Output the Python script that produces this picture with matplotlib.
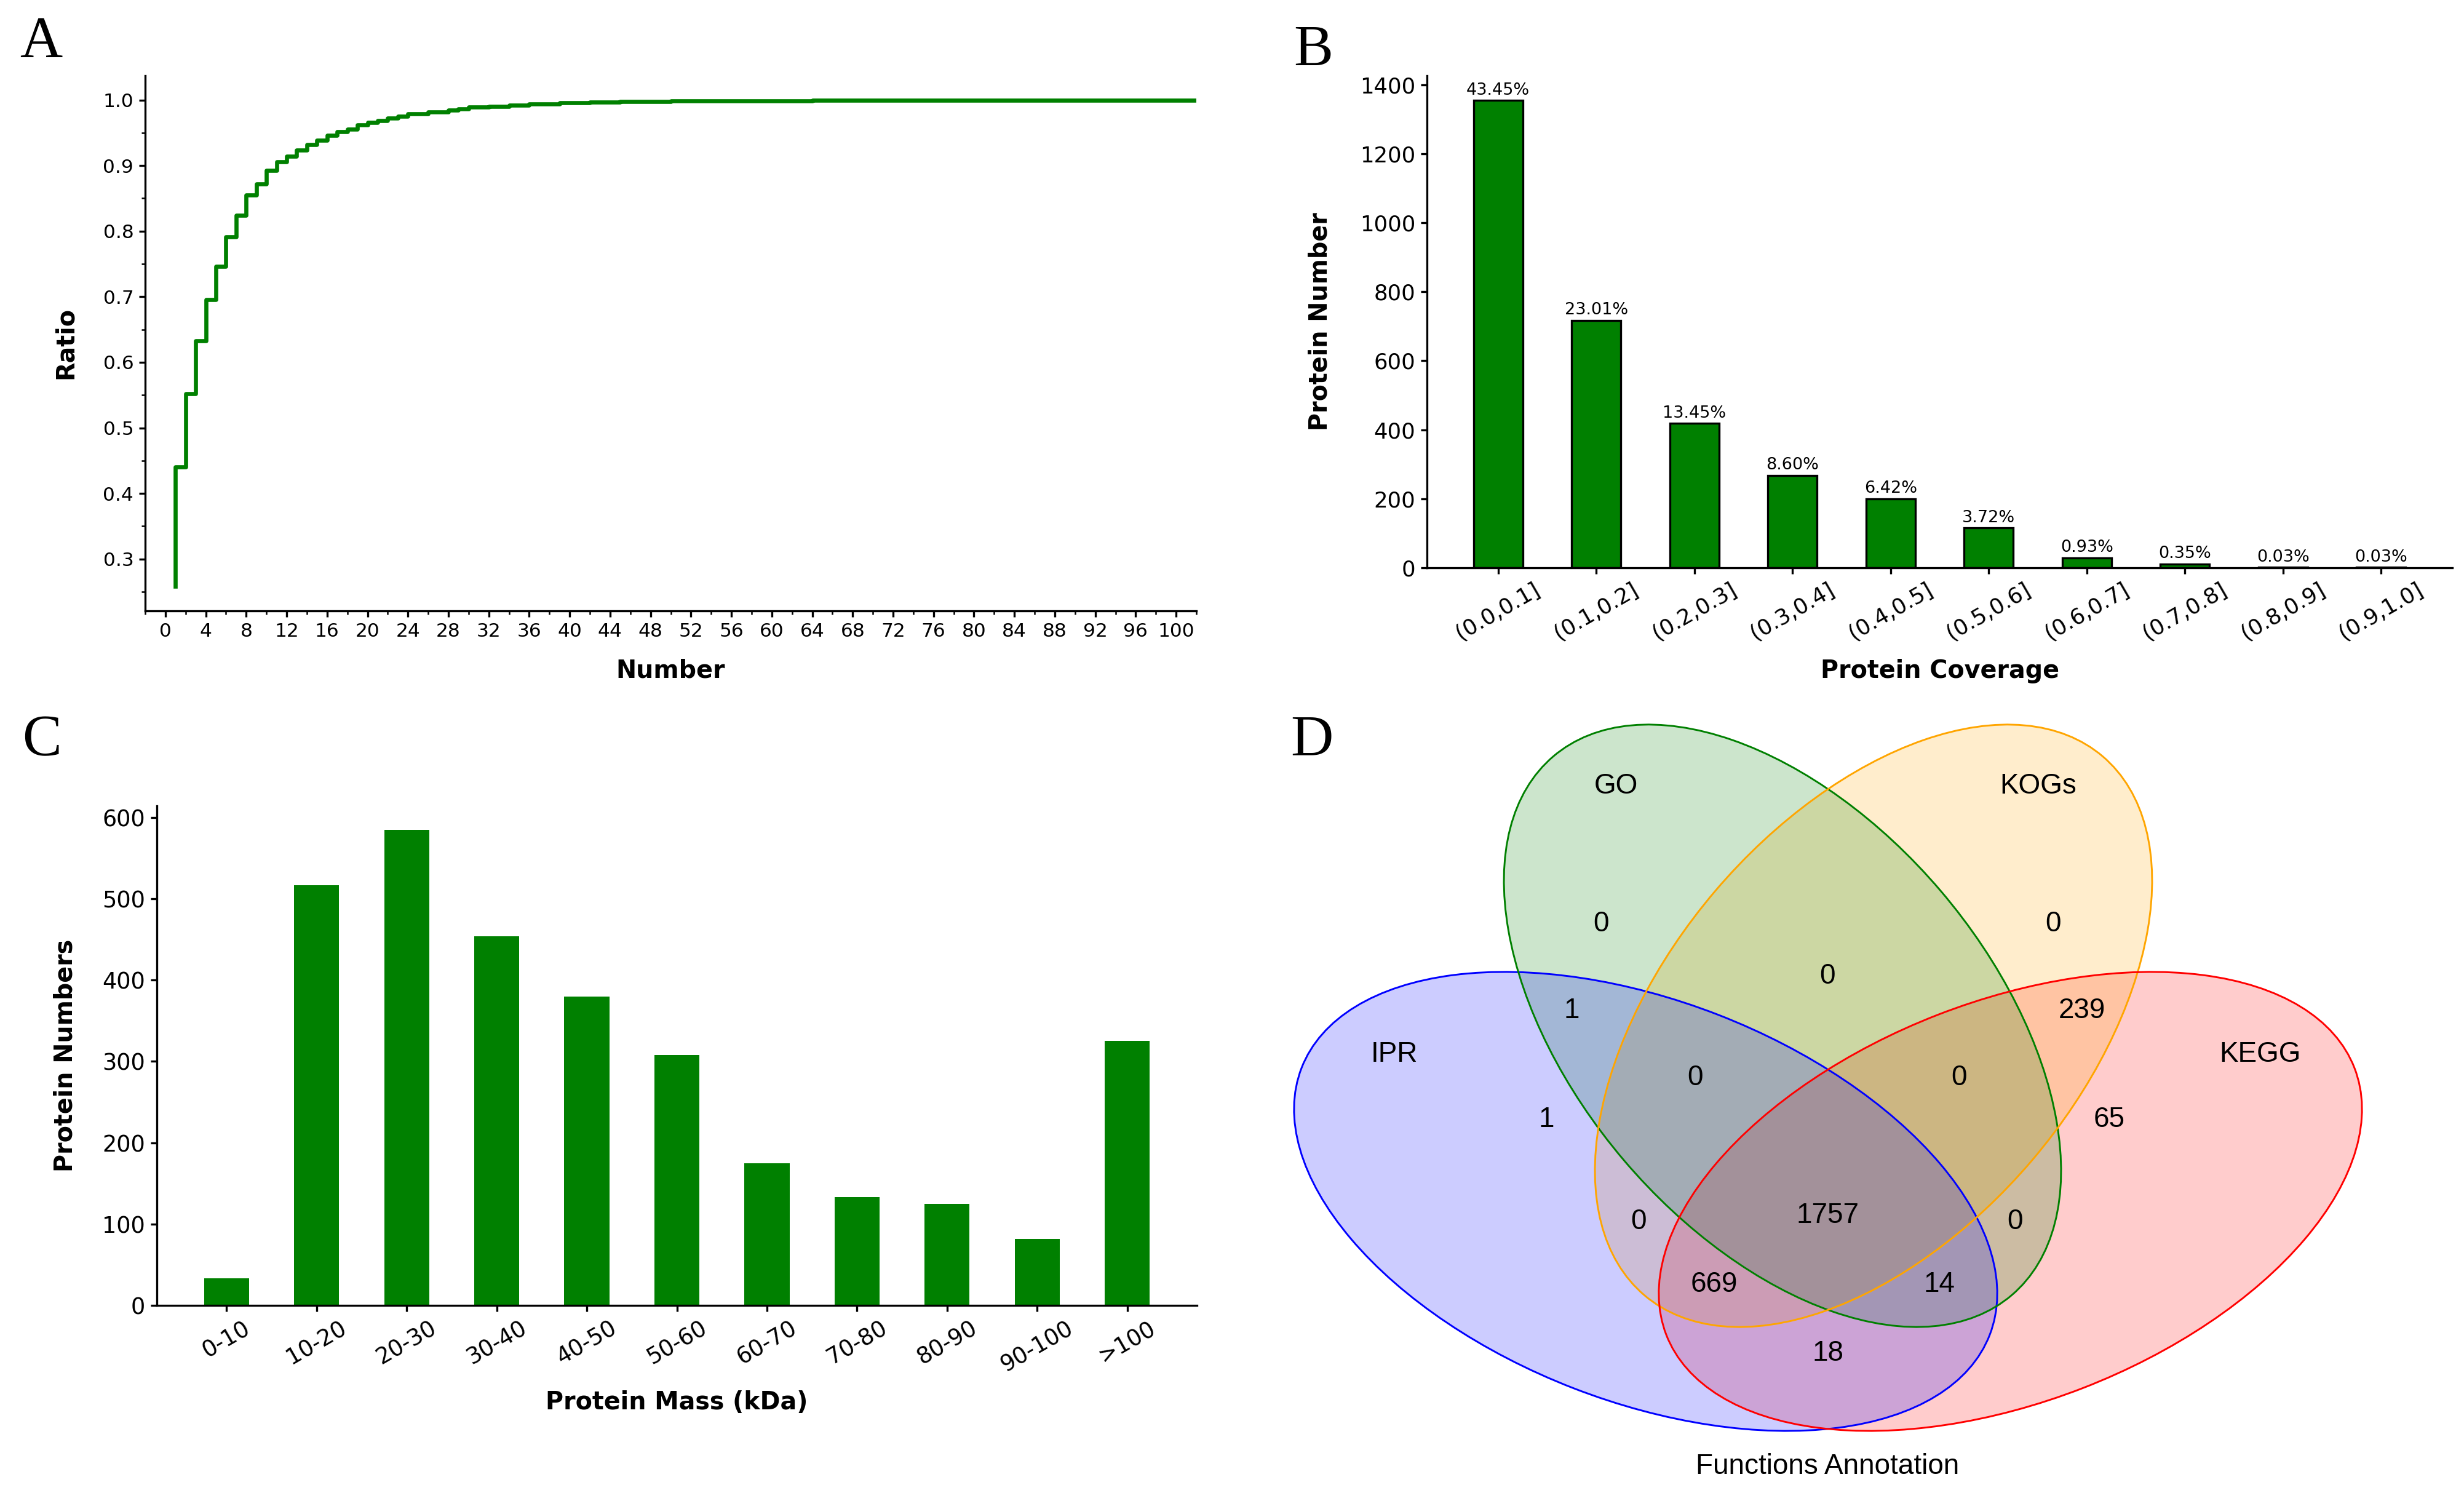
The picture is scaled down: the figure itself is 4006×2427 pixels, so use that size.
import matplotlib
matplotlib.use('Agg')
import matplotlib.pyplot as plt
from matplotlib.patches import Ellipse
from matplotlib.ticker import MultipleLocator
from matplotlib.colors import to_rgba

# ---- data ----
# A: cumulative ratio of proteins vs peptide number
number = list(range(1, 104))
ratio = [0.258, 0.4405, 0.5524, 0.6324, 0.6957, 0.7459, 0.7914, 0.8243, 0.8551, 0.8719,
         0.8924, 0.9054, 0.9146, 0.9238, 0.9319, 0.9389, 0.9465, 0.9514, 0.9557, 0.9616,
         0.9654, 0.9687, 0.9725, 0.975, 0.979, 0.979, 0.9818, 0.9818, 0.985, 0.9869,
         0.9893, 0.9893, 0.9906, 0.9906, 0.9921, 0.9921, 0.994, 0.994, 0.994, 0.9956,
         0.9956, 0.9956, 0.9968, 0.9968, 0.9968, 0.9978, 0.9978, 0.998, 0.998, 0.998,
         0.9984, 0.9984, 0.9984, 0.9987, 0.9987, 0.9987, 0.9987, 0.9987, 0.9987, 0.9987,
         0.999, 0.999, 0.999, 0.999, 0.9994, 0.9994, 0.9994, 0.9994, 0.9994, 0.9997,
         0.9997, 0.9997, 0.9997, 0.9997, 0.9997, 0.9997, 0.9997, 0.9997, 0.9997, 0.9997,
         0.9997, 0.9997, 0.9997, 0.9997, 0.9997, 0.9997, 0.9997, 0.9997, 0.9997, 1.0,
         1.0, 1.0, 1.0, 1.0, 1.0, 1.0, 1.0, 1.0, 1.0, 1.0,
         1.0, 1.0, 1.0]

# B: protein coverage
coverage_bins = ['(0.0,0.1]', '(0.1,0.2]', '(0.2,0.3]', '(0.3,0.4]', '(0.4,0.5]',
                 '(0.5,0.6]', '(0.6,0.7]', '(0.7,0.8]', '(0.8,0.9]', '(0.9,1.0]']
coverage_counts = [1354, 717, 419, 268, 200, 116, 29, 11, 1, 1]

# C: protein mass
mass_bins = ['0-10', '10-20', '20-30', '30-40', '40-50', '50-60',
             '60-70', '70-80', '80-90', '90-100', '>100']
mass_counts = [33, 517, 585, 454, 380, 308, 175, 133, 125, 82, 325]

# D: functional annotation venn (sets: IPR, GO, KOGs, KEGG)
set_names = ['IPR', 'GO', 'KOGs', 'KEGG']
set_colors = ['blue', 'green', 'orange', 'red']
region_keys = ['1000', '0100', '0010', '0001', '1100', '1010', '1001', '0110',
               '0101', '0011', '1110', '1101', '1011', '0111', '1111']
region_counts = [1, 0, 0, 65, 1, 0, 18, 0, 0, 239, 0, 14, 669, 0, 1757]

W, H = 4006, 2427
fig = plt.figure(figsize=(W / 300, H / 300), dpi=300)


def box(left, top, right, bottom):
    return [left / W, 1 - bottom / H, (right - left) / W, (bottom - top) / H]


def style(ax, tsize):
    for s in ['top', 'right']:
        ax.spines[s].set_visible(False)
    for s in ['left', 'bottom']:
        ax.spines[s].set_linewidth(0.8)
    ax.tick_params(which='major', length=2.5, width=0.8, labelsize=tsize, pad=2)
    ax.tick_params(which='minor', length=1.5, width=0.6)


# panel letters
for letter, x, y in [('A', 32, 93), ('B', 2103, 107), ('C', 36, 1228), ('D', 2098, 1228)]:
    fig.text(x / W, 1 - y / H, letter, family='Liberation Serif', fontsize=23,
             ha='left', va='baseline')

# ---- A ----
axA = fig.add_axes(box(236, 123, 1945, 993))
axA.plot(number, ratio, drawstyle='steps-pre', color='green', lw=1.6)
axA.set_xlim(-2, 102)
axA.xaxis.set_major_locator(MultipleLocator(4))
axA.xaxis.set_minor_locator(MultipleLocator(2))
axA.yaxis.set_major_locator(MultipleLocator(0.1))
axA.yaxis.set_minor_locator(MultipleLocator(0.05))
style(axA, 7.5)
axA.set_xlabel('Number', fontsize=9.5, fontweight='bold')
axA.set_ylabel('Ratio', fontsize=9.5, fontweight='bold')
axA.xaxis.set_label_coords(0.5, -0.1115)
axA.xaxis.label.set_va('center')
axA.yaxis.set_label_coords(-0.0755, 0.5)
axA.yaxis.label.set_va('center')

# ---- B ----
axB = fig.add_axes(box(2320, 123, 3987, 923))
xb = range(len(coverage_bins))
axB.bar(xb, coverage_counts, width=0.5, color='green', edgecolor='black', linewidth=0.8)
total = sum(coverage_counts)
for i, c in zip(xb, coverage_counts):
    axB.text(i, c + 6, f'{c / total * 100:.2f}%', ha='center', va='bottom', fontsize=6.5)
axB.set_xticks(list(xb))
axB.set_xticklabels(coverage_bins, rotation=30)
axB.set_ylim(0, 1426)
axB.yaxis.set_major_locator(MultipleLocator(200))
style(axB, 8.5)
axB.set_xlabel('Protein Coverage', fontsize=9.5, fontweight='bold')
axB.set_ylabel('Protein Number', fontsize=9.5, fontweight='bold')
axB.xaxis.set_label_coords(0.5, -0.21)
axB.xaxis.label.set_va('center')
axB.yaxis.set_label_coords(-0.1038, 0.5)
axB.yaxis.label.set_va('center')

# ---- C ----
axC = fig.add_axes(box(255, 1310, 1946, 2122))
xc = range(len(mass_bins))
axC.bar(xc, mass_counts, width=0.5, color='green')
axC.set_xticks(list(xc))
axC.set_xticklabels(mass_bins, rotation=30)
axC.yaxis.set_major_locator(MultipleLocator(100))
style(axC, 8.8)
axC.set_xlabel('Protein Mass (kDa)', fontsize=9.5, fontweight='bold')
axC.set_ylabel('Protein Numbers', fontsize=9.5, fontweight='bold')
axC.xaxis.set_label_coords(0.5, -0.1946)
axC.xaxis.label.set_va('center')
axC.yaxis.set_label_coords(-0.0881, 0.5)
axC.yaxis.label.set_va('center')

# ---- D ----
axD = fig.add_axes(box(2050, 1130, 4006, 2427))
axD.set_xlim(2050, 4006)
axD.set_ylim(2427, 1130)
axD.set_axis_off()

# ellipse layout (pixel units): center x, center y, width, height, angle
ell_layout = {
    'IPR': (2675.5, 1953, 1200, 651, 21.2),
    'GO': (2898, 1667.5, 1150, 676, 49.6),
    'KOGs': (3046, 1667.5, 1150, 676, -49.6),
    'KEGG': (3268.5, 1953, 1200, 651, -21.2),
}
for name, col in reversed(list(zip(set_names, set_colors))):
    cx, cy, ew, eh, ang = ell_layout[name]
    axD.add_patch(Ellipse((cx, cy), ew, eh, angle=ang, facecolor=to_rgba(col, 0.2),
                          edgecolor='none'))
for name, col in zip(set_names, set_colors):
    cx, cy, ew, eh, ang = ell_layout[name]
    axD.add_patch(Ellipse((cx, cy), ew, eh, angle=ang, facecolor='none',
                          edgecolor=col, linewidth=0.7))

name_pos = {'IPR': (2267, 1714), 'GO': (2627, 1278), 'KOGs': (3314, 1278), 'KEGG': (3674, 1714)}
region_pos = {
    '1000': (2514, 1820), '0100': (2603, 1502), '0010': (3338, 1502), '0001': (3429, 1820),
    '1100': (2555, 1643), '1010': (2664, 1986), '1001': (2971.5, 2200), '0110': (2971.5, 1587),
    '0101': (3276, 1986), '0011': (3385, 1643), '1110': (2756, 1752), '1101': (3153, 2088),
    '1011': (2787, 2088), '0111': (3185, 1752), '1111': (2971.5, 1976),
}
vfont = dict(family='Liberation Sans', fontsize=11, ha='center', va='center')
for name in set_names:
    axD.text(*name_pos[name], name, **vfont)
for key, cnt in zip(region_keys, region_counts):
    axD.text(*region_pos[key], str(cnt), **vfont)
axD.text(2971.5, 2384, 'Functions Annotation', **vfont)

fig.savefig('out.png', dpi=300)
